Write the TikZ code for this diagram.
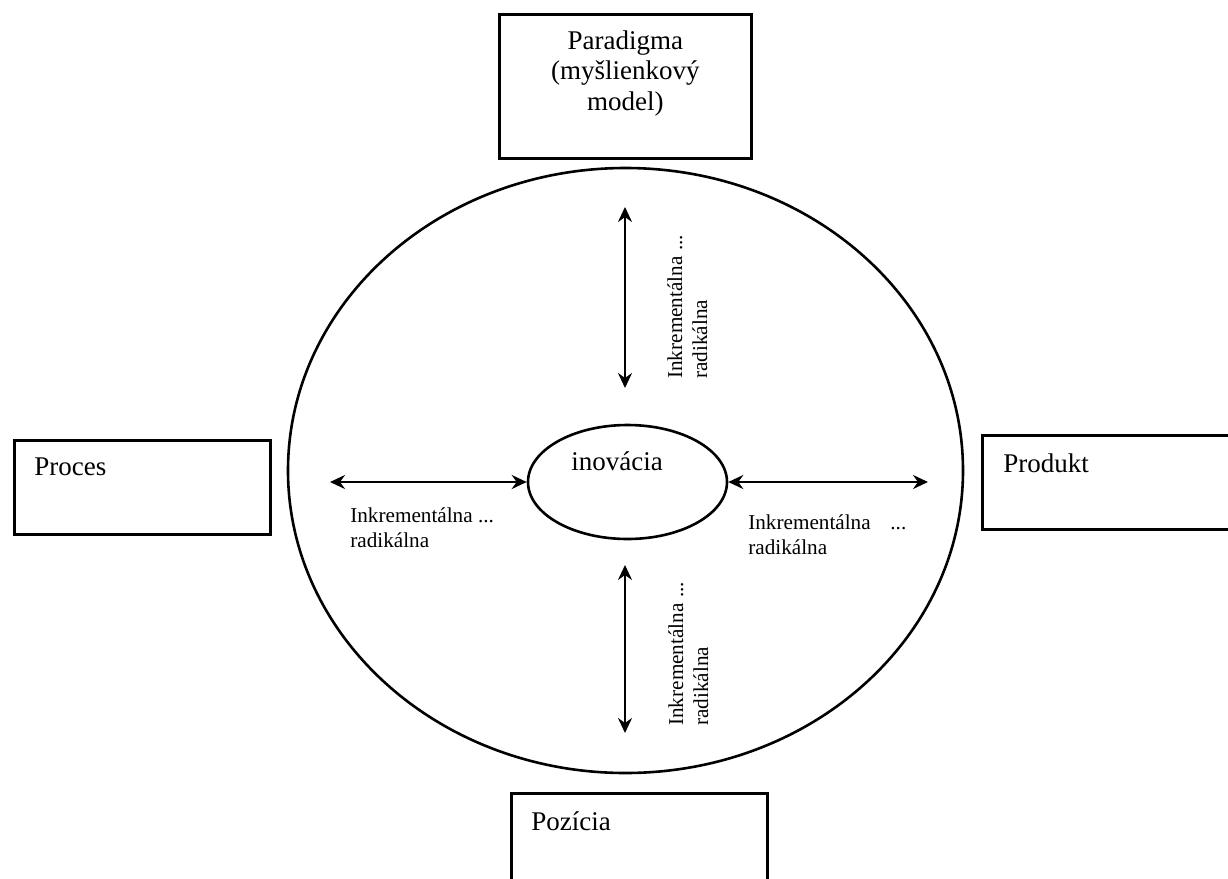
\documentclass[tikz,border=0pt]{standalone}
\usepackage{fontspec}
\setmainfont{Liberation Serif}
\usetikzlibrary{shapes.geometric,positioning,arrows.meta}
\newcommand{\Ink}{Inkrementálna ...}

\begin{document}
\begin{tikzpicture}[x=0.5pt, y=-0.5pt, <->, >={Stealth[length=7.5pt,width=7pt,inset=2.5pt]}, line width=1.3pt,
    box/.style={draw, rectangle, minimum width=128pt, minimum height=47pt, anchor=north west, inner sep=0pt},
    oval/.style={draw, ellipse, inner sep=0pt},
    big/.style={font=\fontsize{13.5pt}{15.25pt}\selectfont, inner sep=0pt},
    small/.style={font=\fontsize{10.6pt}{12.5pt}\selectfont, inner sep=0pt, align=left}]
        \useasboundingbox (0,0) rectangle (1228,879);

        \node[oval, minimum width=337.5pt, minimum height=302.5pt] (outer) at (625.5,470.5) {};
        \node[oval, minimum width=99.5pt, minimum height=57pt] (inov) at (627.5,482) {};
        \node[big, anchor=base] (inovtxt) at (617,470) {inovácia};

        % base of a multi-line node = its last line
        \node[box, minimum width=126pt, minimum height=72pt] (para) at (498,13) {};
        \node[big, anchor=base, align=center] (paratxt) at ([yshift=-48.5pt]para.north) {Paradigma\\(myšlienkový\\model)};
        \node[box] (proces) at (13,439) {};
        \node[big, anchor=base west] (procestxt) at ([xshift=10pt,yshift=-18pt]proces.north west) {Proces};
        \node[box, minimum width=130pt] (produkt) at (981,434) {};
        \node[big, anchor=base west] (produkttxt) at ([xshift=10.5pt,yshift=-19pt]produkt.north west) {Produkt};
        \node[box] (pozicia) at (510,792) {};
        \node[big, anchor=base west] (poziciatxt) at ([xshift=10pt,yshift=-19pt]pozicia.north west) {Pozícia};

        \coordinate (ttop) at (625,207);
        \coordinate (tbot) at (625,388);
        \coordinate (btop) at (625,565);
        \coordinate (bbot) at (625,733);
        \coordinate (lend) at (330,482);
        \coordinate (rend) at (928,482);
        \draw (ttop) -- (tbot);
        \draw (btop) -- (bbot);
        \draw (lend) -- (inov.west);
        \draw (inov.east) -- (rend);

        \node[small, rotate=90, anchor=base west] (toplbl) at (707,380) {\Ink\\radikálna};
        \node[small, rotate=90, anchor=base west] (botlbl) at (708,727) {\Ink\\radikálna};
        \node[small, anchor=base west] (leftlbl) at (349,547) {\Ink\\radikálna};
        \node[small, anchor=base west] (rightlbl) at (747,554) {\makebox[79pt][s]{Inkrementálna ...}\\radikálna};
      \end{tikzpicture}
\end{document}
